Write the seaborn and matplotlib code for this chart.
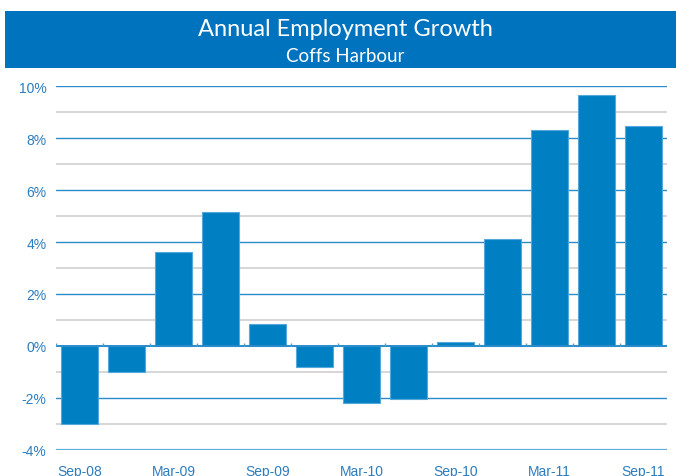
import matplotlib
matplotlib.use("Agg")
import matplotlib.pyplot as plt
import seaborn as sns
import numpy as np
import pandas as pd
from matplotlib.patches import Rectangle

quarters = ["Sep-08", "Dec-08", "Mar-09", "Jun-09", "Sep-09", "Dec-09", "Mar-10",
            "Jun-10", "Sep-10", "Dec-10", "Mar-11", "Jun-11", "Sep-11"]
growth = [-3.0, -1.0, 3.63, 5.17, 0.85, -0.82, -2.2, -2.02, 0.15, 4.1, 8.3, 9.65, 8.45]
yticks = [-4, -2, 0, 2, 4, 6, 8, 10]
minor_ticks = [-3, -1, 1, 3, 5, 7, 9]
title = "Annual Employment Growth"
subtitle = "Coffs Harbour"

sns.set_theme(style="white")
plt.rcParams['font.family'] = ['Liberation Sans', 'DejaVu Sans']

df = pd.DataFrame({"quarter": quarters, "growth": growth})

fig = plt.figure(figsize=(6.76, 4.77), dpi=100)
ax = fig.add_axes([56/676, 1-451/477, (667-56)/676, (451-87)/477])

bar_color = "#0080C3"
tick_color = "#2A7DC1"
major_grid = "#2A8BCB"
minor_grid = "#D0D0D0"

for v in minor_ticks:
    ax.axhline(v, color=minor_grid, lw=1.2, zorder=0)
for v in yticks:
    if v == 0:
        continue
    ax.axhline(v, color=major_grid if v != -4 else "#5AAEDC", lw=1.0 if v != -4 else 1.6, zorder=0)

sns.barplot(data=df, x="quarter", y="growth", color=bar_color, saturation=1,
            width=0.77, edgecolor="#55A8DC", linewidth=0.8, ax=ax, zorder=2)

ax.axhline(0, color=major_grid, lw=1.4, zorder=3)
n = len(quarters)
ax.vlines(np.arange(-0.5, n), 0, 0.12, color="#4A9ED6", lw=1.0, zorder=3)

ax.set_ylim(-4, 10)
ax.set_xlim(-0.5, n - 0.5)
ax.set_yticks(yticks)
ax.set_yticklabels([f"{v}%" for v in yticks], color=tick_color, fontsize=10)
ax.set_xticks(range(0, n, 2))
ax.set_xticklabels(quarters[::2], color=tick_color, fontsize=10)
ax.tick_params(axis='both', length=0, pad=7)
ax.tick_params(axis='x', pad=10)
ax.set_xlabel("")
ax.set_ylabel("")
for s in ax.spines.values():
    s.set_visible(False)

fig.patches.append(Rectangle((5/676, 1-69/477), 1-5/676, (69-12)/477,
                             transform=fig.transFigure, facecolor="#0073BF",
                             edgecolor="none", zorder=0))
fig.text(0.5 + 7/676, 1-29/477, title, color="white", fontsize=17, ha="center",
         va="center", family=["Lato", "DejaVu Sans"], fontweight="normal", zorder=5)
fig.text(0.5 + 7/676, 1-57/477, subtitle, color="white", fontsize=13.5, ha="center",
         va="center", family=["Lato", "DejaVu Sans"], fontweight="normal", zorder=5)

fig.savefig("out.png", dpi=100)
